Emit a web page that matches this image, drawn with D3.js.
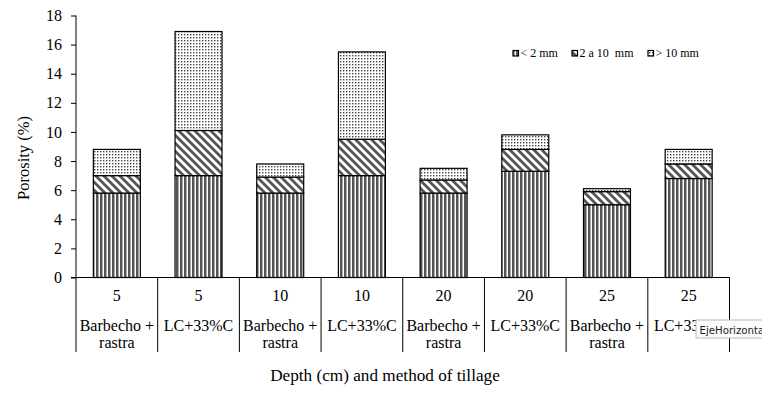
<!DOCTYPE html>
<html>
<head>
<meta charset="utf-8">
<title>Porosity</title>
<script src="https://cdn.jsdelivr.net/npm/d3@7"></script>
<style>
  body { margin: 0; background: #fff; }
  text { font-family: "Liberation Serif", "Times New Roman", serif; }
</style>
</head>
<body>
<script>
// data
var depths = ["5", "5", "10", "10", "20", "20", "25", "25"];
var methods = ["Barbecho +\nrastra", "LC+33%C", "Barbecho +\nrastra", "LC+33%C",
               "Barbecho +\nrastra", "LC+33%C", "Barbecho +\nrastra", "LC+33%C"];
var lt2  = [5.8, 7.0, 5.8, 7.0, 5.8, 7.3, 5.0, 6.8];
var mid  = [1.2, 3.1, 1.1, 2.5, 0.9, 1.5, 0.9, 1.0];
var gt10 = [1.8, 6.8, 0.9, 6.0, 0.8, 1.0, 0.2, 1.0];
var seriesNames = ["< 2 mm", "2 a 10  mm", "> 10 mm"];
var yTicks = [0, 2, 4, 6, 8, 10, 12, 14, 16, 18];

var w = 762, h = 393;
var svg = d3.select("body").append("svg").attr("width", w).attr("height", h);

// patterns
var defs = svg.append("defs");
var p1 = defs.append("pattern").attr("id", "pVert").attr("patternUnits", "userSpaceOnUse")
    .attr("width", 4).attr("height", 4);
p1.append("rect").attr("width", 4).attr("height", 4).attr("fill", "#fff");
p1.append("rect").attr("x", 0).attr("width", 2.5).attr("height", 4).attr("fill", "#555");

var p2 = defs.append("pattern").attr("id", "pDiag").attr("patternUnits", "userSpaceOnUse")
    .attr("width", 8).attr("height", 8);
p2.append("rect").attr("width", 8).attr("height", 8).attr("fill", "#fff");
p2.append("path").attr("d", "M-2,-2L10,10M-2,6L2,10M6,-2L10,2")
    .attr("stroke", "#555").attr("stroke-width", 2.8);

var p3 = defs.append("pattern").attr("id", "pDot").attr("patternUnits", "userSpaceOnUse")
    .attr("width", 3).attr("height", 3);
p3.append("rect").attr("width", 3).attr("height", 3).attr("fill", "#fff");
p3.append("rect").attr("x", 1).attr("y", 1).attr("width", 1.4).attr("height", 1.4).attr("fill", "#444");

var fills = ["url(#pVert)", "url(#pDiag)", "url(#pDot)"];

// scales
var idx = d3.range(depths.length);
var x = d3.scaleBand().domain(idx).range([76, 729.5]).padding(0);
var y = d3.scaleLinear().domain([0, 18]).range([277.5, 15.5]);

var rows = idx.map(function(i) { return {i: i, a: lt2[i], b: mid[i], c: gt10[i]}; });
var stack = d3.stack().keys(["a", "b", "c"]);
var layers = stack(rows);

var barW = x.bandwidth() * 0.575;
var off = (x.bandwidth() - barW) / 2;

svg.selectAll("g.layer")
  .data(layers)
  .enter().append("g")
  .attr("class", "layer")
  .attr("fill", function(d, k) { return fills[k]; })
  .selectAll("rect")
  .data(function(d) { return d; })
  .enter().append("rect")
  .attr("x", function(d) { return x(d.data.i) + off; })
  .attr("y", function(d) { return y(d[1]); })
  .attr("width", barW)
  .attr("height", function(d) { return y(d[0]) - y(d[1]); })
  .attr("stroke", "#000")
  .attr("stroke-width", 1.2);

// y axis
var yAxis = d3.axisLeft(y).tickValues(yTicks).tickSize(5).tickPadding(9);
var gy = svg.append("g").attr("transform", "translate(76,0)").call(yAxis);
gy.select(".domain").remove();
gy.selectAll("line").attr("stroke", "#000");
gy.selectAll("text").attr("font-size", "16px").attr("fill", "#000")
  .style("font-family", "Liberation Serif, serif");

svg.append("line").attr("x1", 76).attr("x2", 76).attr("y1", y(18)).attr("y2", 352)
  .attr("stroke", "#000");
svg.append("line").attr("x1", 71).attr("x2", 729.5).attr("y1", y(0)).attr("y2", y(0))
  .attr("stroke", "#000");

// category table
idx.forEach(function(i) {
  svg.append("line").attr("x1", x(i) + x.bandwidth()).attr("x2", x(i) + x.bandwidth())
    .attr("y1", y(0)).attr("y2", 352).attr("stroke", "#000");
  var cx = x(i) + x.bandwidth() / 2;
  svg.append("text").text(depths[i]).attr("x", cx).attr("y", 301)
    .attr("text-anchor", "middle").attr("font-size", "16px");
  methods[i].split("\n").forEach(function(line, k) {
    svg.append("text").text(line).attr("x", cx).attr("y", 331 + k * 17)
      .attr("text-anchor", "middle").attr("font-size", "16px");
  });
});

// axis titles
svg.append("text").text("Depth (cm) and method of tillage")
  .attr("x", 385).attr("y", 381).attr("text-anchor", "middle").attr("font-size", "17.2px");
svg.append("text").text("Porosity (%)")
  .attr("transform", "translate(29,158) rotate(-90)")
  .attr("text-anchor", "middle").attr("font-size", "16.5px");

// legend
var legX = [513, 572, 648];
seriesNames.forEach(function(name, k) {
  svg.append("rect").attr("x", legX[k]).attr("y", 50.5).attr("width", 5.5).attr("height", 5.5)
    .attr("fill", fills[k]).attr("stroke", "#000").attr("stroke-width", 1.2);
  svg.append("text").text(name).attr("x", legX[k] + 7.5).attr("y", 57)
    .attr("font-size", "12px").style("white-space", "pre");
});

// hover tooltip visible in the screenshot
var tip = svg.append("g").attr("transform", "translate(696,320)");
tip.append("rect").attr("x", 0).attr("y", 0).attr("width", 80).attr("height", 18)
  .attr("fill", "#fbfbfb").attr("stroke", "#bbb");
tip.append("text").text("EjeHorizontal").attr("x", 3.5).attr("y", 13.5)
  .style("font-family", "DejaVu Sans, sans-serif").attr("font-size", "10.2px").attr("fill", "#222");
</script>
</body>
</html>
